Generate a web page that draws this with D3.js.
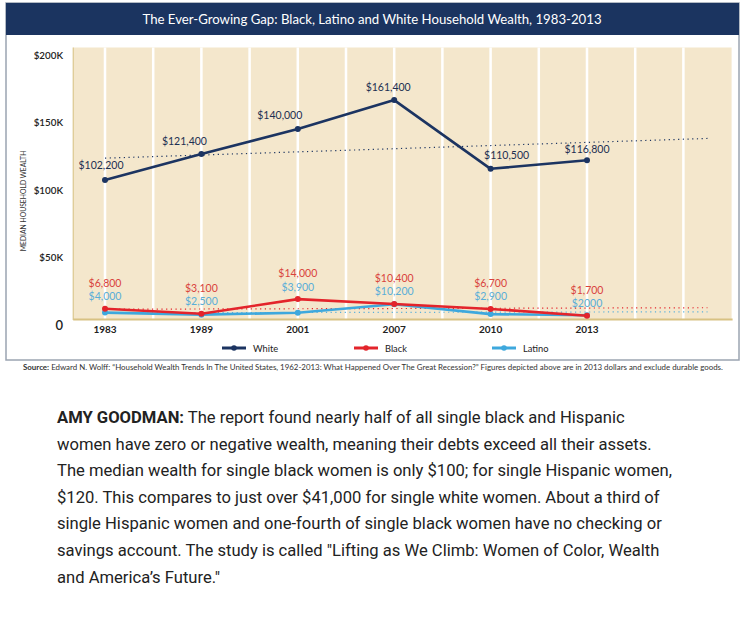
<!DOCTYPE html>
<html>
<head>
<meta charset="utf-8">
<script src="https://d3js.org/d3.v7.min.js"></script>
<style>
    body { margin: 0; background: #fff; }
    .canvas { width: 742px; height: 618px; overflow: hidden; }
</style>
</head>
<body>
<div class="canvas"></div>
<script>
// data
const years = ['1983', '1989', '2001', '2007', '2010', '2013'];
const white = [102200, 121400, 140000, 161400, 110500, 116800];
const black = [6800, 3100, 14000, 10400, 6700, 1700];
const latino = [4000, 2500, 3900, 10200, 2900, 2000];
const whiteLabels = ['$102,200', '$121,400', '$140,000', '$161,400', '$110,500', '$116,800'];
const blackLabels = ['$6,800', '$3,100', '$14,000', '$10,400', '$6,700', '$1,700'];
const latinoLabels = ['$4,000', '$2,500', '$3,900', '$10,200', '$2,900', '$2000'];
const yTicks = [0, 50000, 100000, 150000, 200000];
const yTickLabels = ['0', '$50K', '$100K', '$150K', '$200K'];

// dotted trend lines, start/end value as drawn
const trendIndex = [0, 6.25];
const whiteTrend = [118400, 133000];
const blackTrend = [6500, 7600];
const latinoTrend = [3800, 4600];

const paragraph = [
    ' The report found nearly half of all single black and Hispanic',
    'women have zero or negative wealth, meaning their debts exceed all their assets.',
    'The median wealth for single black women is only $100; for single Hispanic women,',
    '$120. This compares to just over $41,000 for single white women. About a third of',
    'single Hispanic women and one-fourth of single black women have no checking or',
    'savings account. The study is called "Lifting as We Climb: Women of Color, Wealth',
    'and America\u2019s Future."'
];

// label nudges (layout only)
const whiteLabelDx = [-4, -17, -18, -6, 16, 0];
const whiteLabelDy = [-15, -13, -14, -13, -14, -11];

const navy = '#1c3461';
const red = '#e3242b';
const blue = '#3ea8dd';

const svg = d3.select('.canvas')
    .append('svg')
    .attr('width', 742)
    .attr('height', 618)
    .style('font-family', 'Lato, sans-serif');

// frame + title bar
svg.append('rect')
    .attr('x', 6).attr('y', 3)
    .attr('width', 733).attr('height', 357)
    .attr('fill', '#fff')
    .attr('stroke', '#9ba4b1')
    .attr('stroke-width', 1.5);

svg.append('rect')
    .attr('x', 6).attr('y', 3)
    .attr('width', 733).attr('height', 32)
    .attr('fill', '#1b3460');

svg.append('text')
    .attr('x', 372).attr('y', 19)
    .attr('text-anchor', 'middle')
    .attr('dominant-baseline', 'central')
    .attr('fill', '#fff')
    .attr('font-size', 13.2)
    .text('The Ever-Growing Gap: Black, Latino and White Household Wealth, 1983-2013');

const x = d3.scaleLinear().domain([0, 5]).range([105, 587]);
const y = d3.scaleLinear().domain([0, 200000]).range([318, 48]);

const plot = svg.append('g');

plot.append('rect')
    .attr('x', x(-0.33))
    .attr('y', 47.5)
    .attr('width', x(6.5) - x(-0.33))
    .attr('height', 319 - 47.5)
    .attr('fill', '#f4e7cc');

// white vertical stripes every half step
plot.selectAll('.grid')
    .data(d3.range(0, 13).map(i => i / 2))
    .enter()
    .append('line')
    .attr('class', 'grid')
    .attr('x1', d => x(d)).attr('x2', d => x(d))
    .attr('y1', 47.5).attr('y2', 319)
    .attr('stroke', '#fff')
    .attr('stroke-width', 2.5);

plot.append('line')
    .attr('x1', x(-0.33)).attr('x2', x(-0.33))
    .attr('y1', 47.5).attr('y2', 320)
    .attr('stroke', '#d6bf7e')
    .attr('stroke-width', 1);

plot.append('line')
    .attr('x1', x(-0.33)).attr('x2', x(6.5) + 1)
    .attr('y1', 319.5).attr('y2', 319.5)
    .attr('stroke', '#d8c283')
    .attr('stroke-width', 2);

// y axis labels
svg.selectAll('.ytick')
    .data(yTicks)
    .enter()
    .append('text')
    .attr('class', 'ytick')
    .attr('x', 63)
    .attr('y', d => y(d) + 6.5)
    .attr('text-anchor', 'end')
    .attr('dominant-baseline', 'central')
    .attr('fill', '#222')
    .attr('font-size', (d, i) => i == 0 ? 13 : 9.8)
    .attr('font-weight', 600)
    .text((d, i) => yTickLabels[i]);

svg.append('text')
    .attr('transform', 'translate(23, 201) rotate(-90)')
    .attr('text-anchor', 'middle')
    .attr('dominant-baseline', 'central')
    .attr('fill', '#333')
    .attr('font-size', 6.8)
    .text('MEDIAN HOUSEHOLD WEALTH');

// x axis labels
svg.selectAll('.xtick')
    .data(years)
    .enter()
    .append('text')
    .attr('class', 'xtick')
    .attr('x', (d, i) => x(i))
    .attr('y', 329)
    .attr('text-anchor', 'middle')
    .attr('dominant-baseline', 'central')
    .attr('fill', '#222')
    .attr('font-size', 10)
    .attr('font-weight', 700)
    .text(d => d);

// trend lines
const trend = (vals, color) => {
    plot.append('line')
        .attr('x1', x(trendIndex[0])).attr('x2', x(trendIndex[1]))
        .attr('y1', y(vals[0])).attr('y2', y(vals[1]))
        .attr('stroke', color)
        .attr('stroke-width', 1.2)
        .attr('stroke-dasharray', '1.2 3.5');
};
trend(whiteTrend, navy);
trend(latinoTrend, '#5ab0dc');
trend(blackTrend, red);

// series lines
const line = d3.line()
    .x((d, i) => x(i))
    .y(d => y(d));

const series = (vals, color) => {
    plot.append('path')
        .datum(vals)
        .attr('fill', 'none')
        .attr('stroke', color)
        .attr('stroke-width', 2.6)
        .attr('stroke-linejoin', 'round')
        .attr('d', line);

    plot.append('g').selectAll('circle')
        .data(vals)
        .enter()
        .append('circle')
        .attr('cx', (d, i) => x(i))
        .attr('cy', d => y(d))
        .attr('r', 3)
        .attr('fill', color);
};
series(white, navy);
series(latino, blue);
series(black, red);

// value labels
plot.selectAll('.wlabel')
    .data(white)
    .enter()
    .append('text')
    .attr('class', 'wlabel')
    .attr('x', (d, i) => x(i) + whiteLabelDx[i])
    .attr('y', (d, i) => y(d) + whiteLabelDy[i])
    .attr('text-anchor', 'middle')
    .attr('dominant-baseline', 'central')
    .attr('fill', '#1c2f52')
    .attr('font-size', 10.5)
    .text((d, i) => whiteLabels[i]);

plot.selectAll('.blabel')
    .data(black)
    .enter()
    .append('text')
    .attr('class', 'blabel')
    .attr('x', (d, i) => x(i))
    .attr('y', d => y(d) - 26)
    .attr('text-anchor', 'middle')
    .attr('dominant-baseline', 'central')
    .attr('fill', '#d9433d')
    .attr('font-size', 10.5)
    .text((d, i) => blackLabels[i]);

plot.selectAll('.llabel')
    .data(black)
    .enter()
    .append('text')
    .attr('class', 'llabel')
    .attr('x', (d, i) => x(i))
    .attr('y', d => y(d) - 12.5)
    .attr('text-anchor', 'middle')
    .attr('dominant-baseline', 'central')
    .attr('fill', '#5aaed8')
    .attr('font-size', 10.5)
    .text((d, i) => latinoLabels[i]);

// legend
const legendItems = [
    {name: 'White', color: navy, x: 222},
    {name: 'Black', color: red, x: 354},
    {name: 'Latino', color: blue, x: 492}
];

const legend = svg.selectAll('.legend')
    .data(legendItems)
    .enter()
    .append('g')
    .attr('class', 'legend')
    .attr('transform', d => `translate(${d.x}, 348)`);

legend.append('line')
    .attr('x1', 0).attr('x2', 24)
    .attr('stroke', d => d.color)
    .attr('stroke-width', 3);

legend.append('circle')
    .attr('cx', 12)
    .attr('r', 2.8)
    .attr('fill', d => d.color);

legend.append('text')
    .attr('x', 31)
    .attr('dominant-baseline', 'central')
    .attr('fill', '#222')
    .attr('font-size', 9.3)
    .text(d => d.name);

// source note
const source = svg.append('text')
    .attr('x', 23).attr('y', 367)
    .attr('dominant-baseline', 'central')
    .attr('fill', '#333')
    .attr('font-size', 7.9);

source.append('tspan')
    .attr('font-weight', 700)
    .text('Source:');

source.append('tspan')
    .text(' Edward N. Wolff: \u201cHousehold Wealth Trends In The United States, 1962-2013: What Happened Over The Great Recession?\u201d Figures depicted above are in 2013 dollars and exclude durable goods.');

// paragraph under the chart
const para = svg.append('g')
    .style('font-family', 'Roboto, sans-serif')
    .attr('font-size', 16.6)
    .attr('fill', '#222');

para.selectAll('text')
    .data(paragraph)
    .enter()
    .append('text')
    .attr('x', 57)
    .attr('y', (d, i) => 423 + i * 26.6)
    .each(function(d, i) {
        const t = d3.select(this);
        if (i == 0) {
            t.append('tspan').attr('font-weight', 700).text('AMY GOODMAN:');
        }
        t.append('tspan').text(d);
    });
</script>
</body>
</html>
